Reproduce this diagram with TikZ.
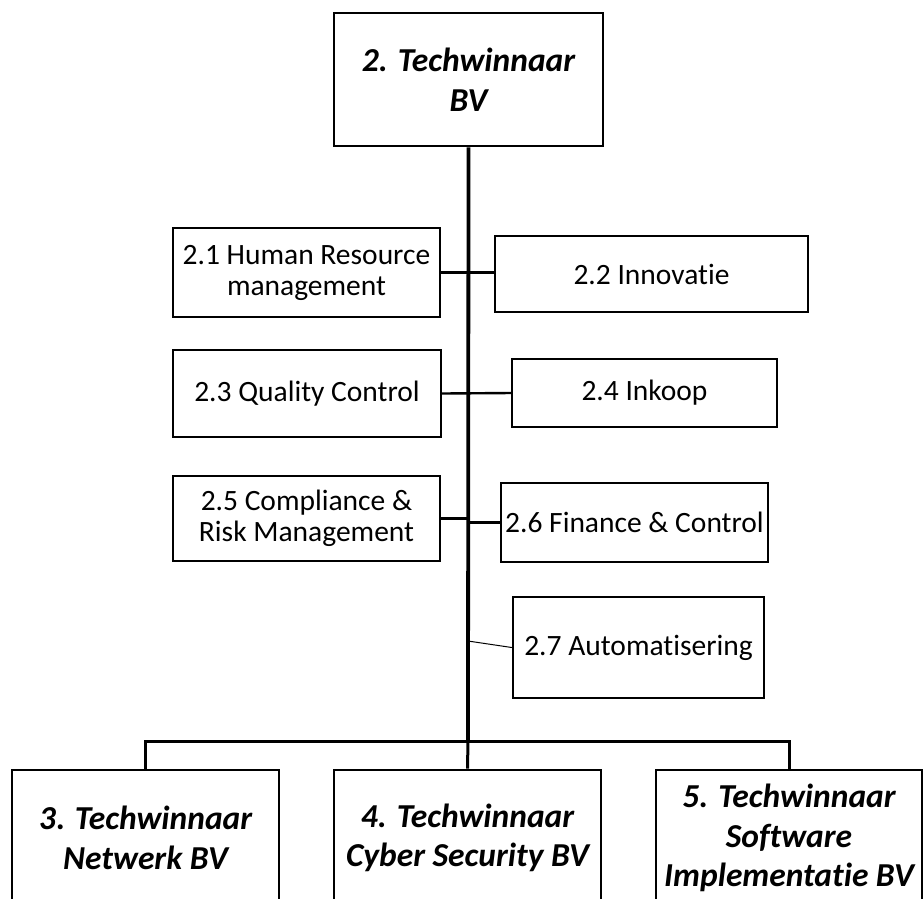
\documentclass[tikz,border=0pt]{standalone}
\usepackage{fontspec}
\setmainfont{Carlito}[Ligatures=NoCommon]
\begin{document}
\begin{tikzpicture}[x=1pt,y=-1pt,
  unitbox/.style={draw=black, line width=2.4pt, fill=white, align=center, inner sep=2pt,
    font=\fontsize{29.5}{31}\selectfont},
  bvbox/.style={draw=black, line width=2.8pt, fill=white, align=center, inner sep=2pt,
    font=\fontsize{33.5}{39.5}\selectfont\bfseries\itshape},
  trunk/.style={line width=3.8pt},
  link/.style={line width=2.4pt},
  thinlink/.style={line width=1pt}]
\useasboundingbox (0,0) rectangle (923,898);
\clip (0,0) rectangle (923,898);
% top box
\node[bvbox, minimum width=269pt, minimum height=133pt] (top) at (468.5,79.5) {2. Techwinnaar\\BV};
% trunk and bus coordinates
\coordinate (bus) at (468,741);
\coordinate (t7) at (468,641);
% bottom boxes
\node[bvbox, minimum width=267pt, minimum height=136pt] (b3) at (145.5,838) {3\textup{.} Techwinnaar\\Netwerk BV};
\node[bvbox, minimum width=267pt, minimum height=136pt] (b4) at (467.5,838) {4. Techwinnaar\\Cyber Security BV};
\node[bvbox, minimum width=266pt, minimum height=136pt] (b5) at (789,838) {5. Techwinnaar\\Software\\Implementatie BV};
% trunk
\draw[trunk] (top.south) -- (bus);
\draw[link, line width=3pt] (b3.north) |- (bus) -| (b5.north);
\draw[link, line width=3pt] (bus) -- (b4.north);
% units
\node[unitbox, minimum width=267pt, minimum height=89pt] (b21) at (306.5,272.5) {2.1 Human Resource\\management};
\node[unitbox, minimum width=313pt, minimum height=76pt] (b22) at (651.5,274) {2.2 Innovatie};
\node[unitbox, minimum width=268pt, minimum height=87pt] (b23) at (307,393.5) {2.3 Quality Control};
\node[unitbox, minimum width=265pt, minimum height=68pt] (b24) at (644.5,393) {2.4 Inkoop};
\node[unitbox, minimum width=267pt, minimum height=85pt] (b25) at (306.5,518.5) {2.5 Compliance \&\\Risk Management};
\node[unitbox, minimum width=267pt, minimum height=79pt] (b26) at (634.5,522.5) {2.6 Finance \& Control};
\node[unitbox, minimum width=251pt, minimum height=101pt] (b27) at (638.5,647.5) {2.7 Automatisering};
% connectors
\draw[link] (b21.east) -- (b21.east -| b22.west);
\draw[link] (b23.east) -- (b24.west);
\draw[link] (b25.east) -- (b25.east -| bus);
\draw[link] (b26.west -| bus) -- (b26.west);
\draw[thinlink] (t7) -- (b27.west);
\end{tikzpicture}
\end{document}
